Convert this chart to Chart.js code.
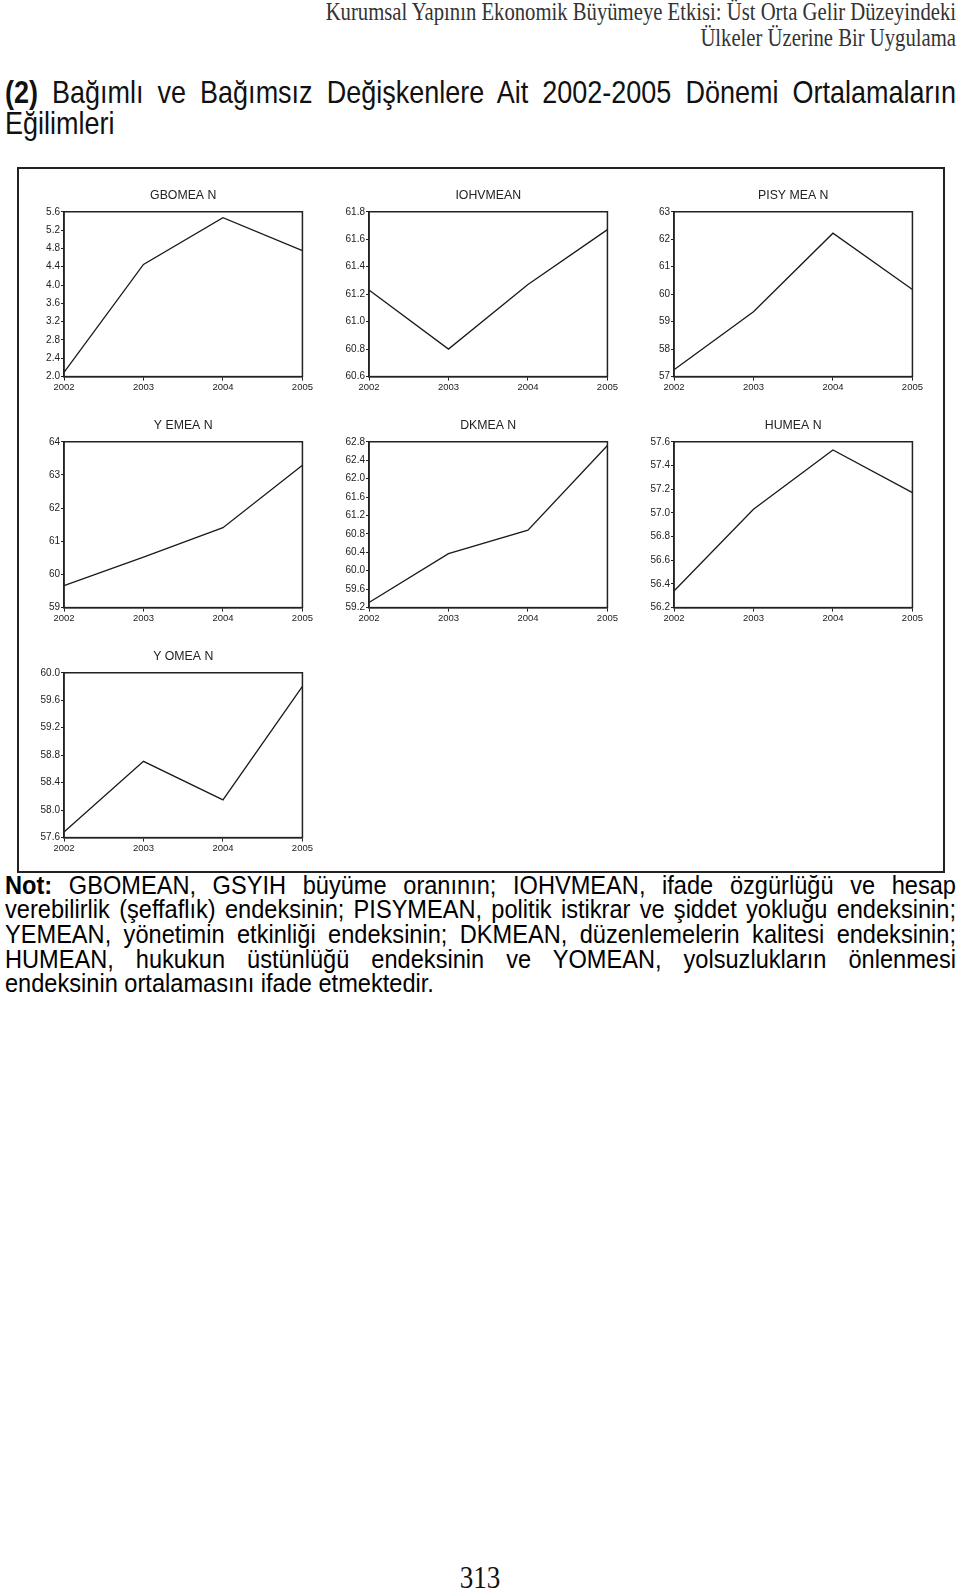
<!DOCTYPE html>
<html lang="tr">
<head>
<meta charset="utf-8">
<script src="https://cdn.jsdelivr.net/npm/chart.js@4"></script>
<style>
  html, body { margin: 0; padding: 0; background: #fff; }
  body { width: 960px; height: 1590px; position: relative; overflow: hidden; color: #111; }
  .tall { position: absolute; transform: scaleY(1.17); transform-origin: 0 0; }
  .note { position: absolute; transform: scaleY(1.1); transform-origin: 0 0; }
  .serif { font-family: 'Liberation Serif', 'DejaVu Serif', serif; }
  .sans { font-family: 'Liberation Sans', Arial, sans-serif; }
  .jline { white-space: nowrap; text-align: justify; text-align-last: justify; }
  .frame { position: absolute; left: 17px; top: 167px; width: 924px; height: 702px; border: 2px solid #222; }
  canvas { position: absolute; }
</style>
</head>
<body>

<div class="tall serif" style="left:0; top:0; width:956px; text-align:right; font-size:20.7px; line-height:21.5px; color:#333;">
  Kurumsal Yapının Ekonomik Büyümeye Etkisi: Üst Orta Gelir Düzeyindeki<br>
  Ülkeler Üzerine Bir Uygulama
</div>

<div class="tall sans" style="left:5px; top:77px; width:951px; font-size:27px; line-height:27px;">
  <div class="jline"><b>(2)</b> Bağımlı ve Bağımsız Değişkenlere Ait 2002-2005 Dönemi Ortalamaların</div>
  <div>Eğilimleri</div>
</div>

<div class="frame"></div>

<canvas id="c1"></canvas>
<canvas id="c2"></canvas>
<canvas id="c3"></canvas>
<canvas id="c4"></canvas>
<canvas id="c5"></canvas>
<canvas id="c6"></canvas>
<canvas id="c7"></canvas>

<div class="note sans" style="left:5px; top:873px; width:951px; font-size:23.6px; line-height:22.3px; color:#000;">
  <div class="jline"><b>Not:</b> GBOMEAN, GSYIH büyüme oranının; IOHVMEAN, ifade özgürlüğü ve hesap</div>
  <div class="jline">verebilirlik (şeffaflık) endeksinin; PISYMEAN, politik istikrar ve şiddet yokluğu endeksinin;</div>
  <div class="jline">YEMEAN, yönetimin etkinliği endeksinin; DKMEAN, düzenlemelerin kalitesi endeksinin;</div>
  <div class="jline">HUMEAN, hukukun üstünlüğü endeksinin ve YOMEAN, yolsuzlukların önlenmesi</div>
  <div>endeksinin ortalamasını ifade etmektedir.</div>
</div>

<div class="tall serif" style="left:0; top:1562px; width:960px; text-align:center; font-size:27px; line-height:27px;">313</div>

<script>
// years on the x axis
var years = ['2002', '2003', '2004', '2005'];

// series
var gbomean = [2.09, 4.45, 5.47, 4.75];
var iohvmean = [61.23, 60.80, 61.27, 61.67];
var pisymean = [57.25, 59.36, 62.22, 60.17];
var yemean = [59.66, 60.52, 61.41, 63.29];
var dkmean = [59.31, 60.37, 60.88, 62.72];
var humean = [56.34, 57.03, 57.53, 57.17];
var yomean = [57.68, 58.71, 58.15, 59.80];

// y tick labels of each panel
var gbomeanTicks = ['2.0', '2.4', '2.8', '3.2', '3.6', '4.0', '4.4', '4.8', '5.2', '5.6'];
var iohvmeanTicks = ['60.6', '60.8', '61.0', '61.2', '61.4', '61.6', '61.8'];
var pisymeanTicks = ['57', '58', '59', '60', '61', '62', '63'];
var yemeanTicks = ['59', '60', '61', '62', '63', '64'];
var dkmeanTicks = ['59.2', '59.6', '60.0', '60.4', '60.8', '61.2', '61.6', '62.0', '62.4', '62.8'];
var humeanTicks = ['56.2', '56.4', '56.6', '56.8', '57.0', '57.2', '57.4', '57.6'];
var yomeanTicks = ['57.6', '58.0', '58.4', '58.8', '59.2', '59.6', '60.0'];

var FONT = "'Liberation Sans Narrow', 'Liberation Sans', Arial, sans-serif";
var INK = '#222';

var boxPlugin = {
    id: 'box',
    afterDraw: function(chart) {
        var a = chart.chartArea, ctx = chart.ctx;
        ctx.save();
        ctx.strokeStyle = INK;
        ctx.lineWidth = 1.5;
        ctx.strokeRect(a.left, a.top, a.right - a.left, a.bottom - a.top);
        ctx.restore();
    }
};

function panel(id, title, data, ticks, plot) {
    // plot = [left, top, right, bottom] of the plot frame on the page
    var canvas = document.getElementById(id);
    var left = plot[0] - 38, top = plot[1] - 25;
    canvas.width = plot[2] - left + 11;
    canvas.height = plot[3] - top + 18;
    canvas.style.left = left + 'px';
    canvas.style.top = top + 'px';

    var values = ticks.map(function(t) { return parseFloat(t); });

    new Chart(canvas, {
        type: 'line',
        data: {
            labels: years,
            datasets: [{
                data: data,
                borderColor: '#1a1a1a',
                borderWidth: 1.3,
                pointRadius: 0,
                tension: 0,
                fill: false
            }]
        },
        options: {
            responsive: false,
            animation: false,
            devicePixelRatio: 1,
            layout: { padding: 0 },
            plugins: {
                legend: { display: false },
                tooltip: { enabled: false },
                title: {
                    display: true,
                    text: title,
                    fullSize: false,
                    color: INK,
                    font: { family: FONT, size: 12.3, weight: 'normal' },
                    padding: { top: 1, bottom: 9 }
                }
            },
            scales: {
                x: {
                    offset: false,
                    grid: { drawOnChartArea: false, tickLength: 4, color: INK },
                    border: { display: true, color: INK, width: 1.5 },
                    ticks: { color: INK, font: { family: FONT, size: 9.5 }, padding: 1, maxRotation: 0, autoSkip: false }
                },
                y: {
                    min: values[0],
                    max: values[values.length - 1],
                    afterBuildTicks: function(scale) {
                        scale.ticks = values.map(function(v) { return { value: v }; });
                    },
                    afterFit: function(scale) { scale.width = 38; },
                    grid: { drawOnChartArea: false, tickLength: 3, color: INK },
                    border: { display: true, color: INK, width: 1.5 },
                    ticks: {
                        color: INK,
                        font: { family: FONT, size: 10 },
                        padding: 1,
                        callback: function(v, i) { return ticks[i]; }
                    }
                }
            }
        },
        plugins: [boxPlugin]
    });
}

document.addEventListener('DOMContentLoaded', function() {
    if (typeof Chart === 'undefined') return;
    panel('c1', 'GBOMEA N', gbomean, gbomeanTicks, [64, 212, 303, 376]);
    panel('c2', 'IOHVMEAN', iohvmean, iohvmeanTicks, [369, 212, 608, 376]);
    panel('c3', 'PISY MEA N', pisymean, pisymeanTicks, [674, 212, 913, 376]);
    panel('c4', 'Y EMEA N', yemean, yemeanTicks, [64, 442, 303, 607]);
    panel('c5', 'DKMEA N', dkmean, dkmeanTicks, [369, 442, 608, 607]);
    panel('c6', 'HUMEA N', humean, humeanTicks, [674, 442, 913, 607]);
    panel('c7', 'Y OMEA N', yomean, yomeanTicks, [64, 673, 303, 837]);
});
</script>
</body>
</html>
